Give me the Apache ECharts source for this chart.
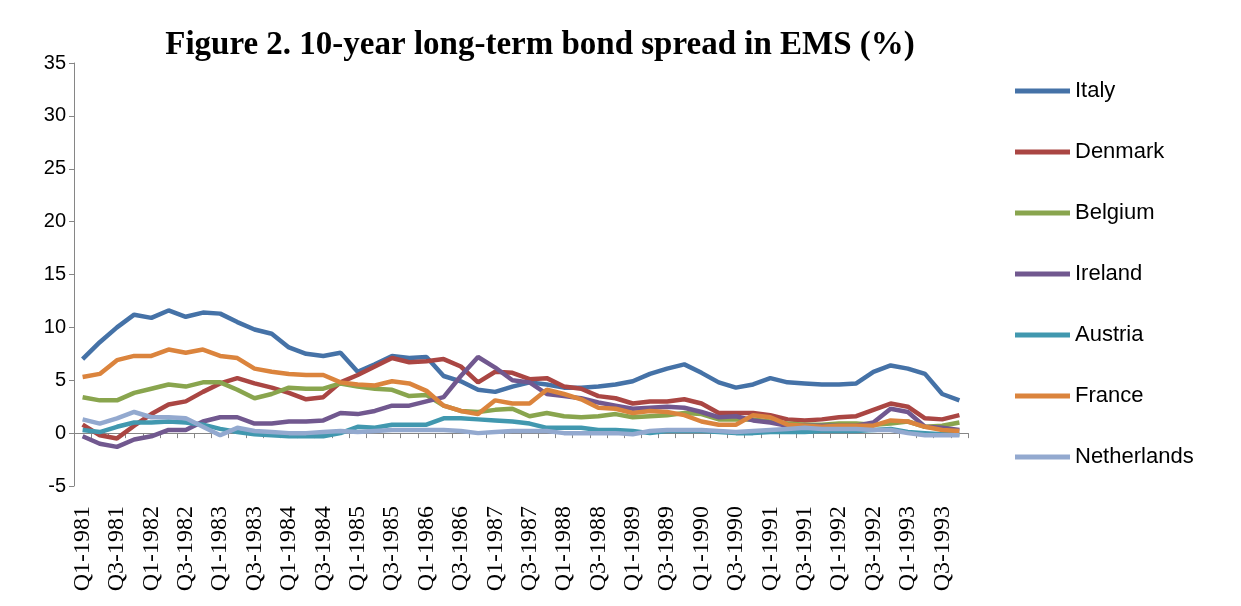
<!DOCTYPE html>
<html><head><meta charset="utf-8">
<script src="https://cdn.jsdelivr.net/npm/echarts@6/dist/echarts.min.js"></script>
<style>html,body{margin:0;padding:0;background:#fff}#c{width:1241px;height:606px}</style>
</head><body><div id="c"></div>
<script>
const categories=[];for(let y=1981;y<=1993;y++)for(let q=1;q<=4;q++)categories.push('Q'+q+'-'+y);
const italy=[7.0,8.6,10.0,11.2,10.9,11.6,11.0,11.4,11.3,10.5,9.8,9.4,8.1,7.5,7.3,7.6,5.8,6.5,7.3,7.1,7.2,5.4,4.9,4.1,3.9,4.4,4.8,4.6,4.3,4.3,4.4,4.6,4.9,5.6,6.1,6.5,5.7,4.8,4.3,4.6,5.2,4.8,4.7,4.6,4.6,4.7,5.8,6.4,6.1,5.6,3.7,3.1];
const denmark=[0.8,-0.2,-0.5,0.7,1.8,2.7,3.0,3.9,4.7,5.2,4.7,4.3,3.8,3.2,3.4,4.8,5.5,6.3,7.1,6.7,6.8,7.0,6.3,4.8,5.8,5.7,5.1,5.2,4.4,4.2,3.5,3.3,2.8,3.0,3.0,3.2,2.8,1.9,1.9,1.9,1.7,1.3,1.2,1.3,1.5,1.6,2.2,2.8,2.5,1.4,1.3,1.7];
const belgium=[3.4,3.1,3.1,3.8,4.2,4.6,4.4,4.8,4.8,4.1,3.3,3.7,4.3,4.2,4.2,4.7,4.4,4.2,4.1,3.5,3.6,2.6,2.1,2.0,2.2,2.3,1.6,1.9,1.6,1.5,1.6,1.8,1.5,1.6,1.7,1.9,1.8,1.3,1.3,1.3,1.1,0.9,0.8,0.8,0.9,0.9,0.8,0.9,1.1,0.6,0.7,1.0];
const ireland=[-0.3,-1.0,-1.3,-0.6,-0.3,0.3,0.3,1.1,1.5,1.5,0.9,0.9,1.1,1.1,1.2,1.9,1.8,2.1,2.6,2.6,3.0,3.4,5.4,7.2,6.2,5.0,4.8,3.7,3.5,3.3,2.9,2.6,2.3,2.4,2.5,2.4,2.0,1.5,1.6,1.2,1.0,0.7,0.7,0.7,0.7,0.7,1.0,2.3,2.0,0.6,0.5,0.3];
const austria=[0.3,0.1,0.6,1.0,1.0,1.1,1.0,0.8,0.4,0.1,-0.1,-0.2,-0.3,-0.3,-0.3,0.0,0.6,0.5,0.8,0.8,0.8,1.4,1.4,1.3,1.2,1.1,0.9,0.5,0.5,0.5,0.3,0.3,0.2,0.0,0.2,0.2,0.2,0.1,0.0,0.0,0.1,0.1,0.1,0.2,0.2,0.2,0.3,0.4,0.1,0.0,-0.1,-0.1];
const france=[5.3,5.6,6.9,7.3,7.3,7.9,7.6,7.9,7.3,7.1,6.1,5.8,5.6,5.5,5.5,4.8,4.6,4.5,4.9,4.7,4.0,2.6,2.1,1.8,3.1,2.8,2.8,4.1,3.7,3.2,2.4,2.3,1.9,2.1,2.0,1.7,1.1,0.8,0.8,1.7,1.5,0.8,0.7,0.6,0.7,0.7,0.7,1.2,1.1,0.6,0.3,0.2];
const netherlands=[1.3,0.9,1.4,2.0,1.5,1.5,1.4,0.6,-0.2,0.5,0.2,0.1,0.0,0.0,0.1,0.2,0.1,0.2,0.3,0.3,0.3,0.3,0.2,0.0,0.1,0.2,0.2,0.2,0.0,0.0,0.0,0.0,-0.1,0.2,0.3,0.3,0.3,0.2,0.1,0.2,0.3,0.4,0.5,0.4,0.4,0.4,0.3,0.3,0.0,-0.2,-0.2,-0.2];
const names=['Italy','Denmark','Belgium','Ireland','Austria','France','Netherlands'];
const data=[italy,denmark,belgium,ireland,austria,france,netherlands];
const colors=['#4572A7','#AA4643','#89A54E','#71588F','#4198AF','#DB843D','#93A9CF'];
const ch=echarts.init(document.getElementById('c'));
ch.setOption({
 animation:false,
 title:{text:'Figure 2. 10-year long-term bond spread in EMS (%)',left:535,textAlign:'center',top:24,textStyle:{fontFamily:'Liberation Serif',fontWeight:'bold',fontSize:33,color:'#000'}},
 legend:{orient:'vertical',left:1010,top:75,itemGap:39,itemWidth:55,itemHeight:5,icon:'rect',textStyle:{fontFamily:'Liberation Sans',fontSize:22,color:'#000'},data:names},
 grid:{left:74,right:273,top:63,bottom:120,outerBoundsMode:'none',containLabel:false},
 xAxis:{type:'category',data:categories,boundaryGap:true,
  axisLine:{onZero:true,lineStyle:{color:'#868686'}},axisTick:{show:true,interval:0,lineStyle:{color:'#868686'}},
  axisLabel:{interval:1,rotate:90,fontFamily:'Liberation Serif',fontSize:24,color:'#000',margin:20}},
 yAxis:{type:'value',min:-5,max:35,interval:5,
  axisLine:{show:true,lineStyle:{color:'#868686'}},axisTick:{show:true,lineStyle:{color:'#868686'}},splitLine:{show:false},
  axisLabel:{fontFamily:'Liberation Sans',fontSize:20,color:'#000'}},
 series:names.map((n,i)=>({name:n,type:'line',data:data[i],symbol:'none',lineStyle:{width:4.5,color:colors[i]},itemStyle:{color:colors[i]}}))
});
</script></body></html>
